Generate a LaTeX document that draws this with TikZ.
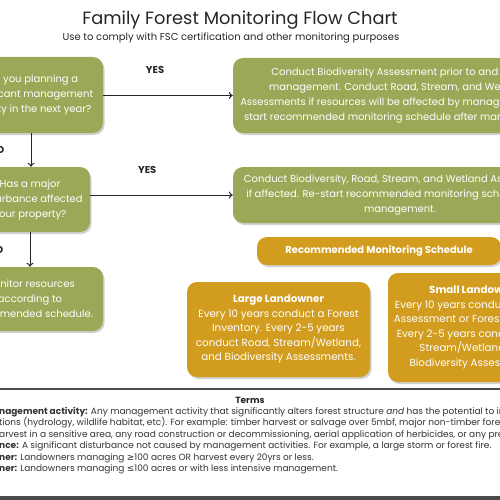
\documentclass[tikz,border=0pt]{standalone}
\usepackage{fontspec}
\setmainfont{Poppins}
\newfontfamily\symbolfont{DejaVu Sans}
\usetikzlibrary{arrows.meta,shadows}
\definecolor{boxgreen}{RGB}{155,168,88}
\definecolor{boxgold}{RGB}{210,156,30}
\definecolor{rulegray}{RGB}{75,75,75}
\tikzset{
  >={To[length=4pt,width=7pt]},
  flowbox/.style = {
    rounded corners=10pt,
    inner sep=0pt,
    text=white,
    align=center,
    font=\fontsize{10}{15}\selectfont,
    drop shadow={shadow xshift=1.5pt, shadow yshift=-2pt, opacity=0.3, fill=black!60}
  },
  greenbox/.style = {flowbox, fill=boxgreen},
  goldbox/.style = {flowbox, fill=boxgold},
  flow/.style = {->, line width=1pt, black!85},
  answer/.style = {font=\fontsize{10}{12}\selectfont\bfseries, black!85},
  termline/.style = {anchor=base west, inner sep=0pt, font=\fontsize{9}{11}\selectfont, black!80}
}

\begin{document}
\begin{tikzpicture}[x=1pt,y=-1pt]
  \useasboundingbox (0,0) rectangle (500,500);
  \clip (0,0) rectangle (500,500);
  % heading
  \node[font=\fontsize{17.8}{20}\selectfont, black!85] (title) at (240,20) {Family Forest Monitoring Flow Chart};
  \node[font=\fontsize{10}{12}\selectfont, black!85] (subtitle) at (231,38) {Use to comply with FSC certification and other monitoring purposes};
  % questions and actions
  \node[greenbox, minimum width=144pt, minimum height=76pt] (plan) at (31,95)
    {Are you planning a\\ significant management\\ activity in the next year?};
  \node[greenbox, minimum width=330pt, minimum height=75pt] (before) at (398,95.5)
    {Conduct Biodiversity Assessment prior to and after\\ management. Conduct Road, Stream, and Wetland\\ Assessments if resources will be affected by management. Re-\\ start recommended monitoring schedule after management.};
  \node[greenbox, minimum width=120pt, minimum height=65pt] (disturb) at (30,199.5)
    {Has a major\\ disturbance affected\\ your property?};
  \node[greenbox, minimum width=334pt, minimum height=56pt] (after) at (400,195)
    {Conduct Biodiversity, Road, Stream, and Wetland Assessments\\ if affected. Re-start recommended monitoring schedule after\\ management.};
  \node[greenbox, minimum width=146pt, minimum height=64pt] (monitor) at (30,299)
    {Monitor resources\\ according to\\ recommended schedule.};
  % schedule
  \node[goldbox, minimum width=244pt, minimum height=28pt, font=\fontsize{10}{12}\selectfont\bfseries] (schedule) at (379,251)
    {Recommended Monitoring Schedule};
  \node[goldbox, minimum width=183pt, minimum height=95pt, font=\fontsize{10.3}{14.5}\selectfont] (large) at (278.5,329.5)
    {\textbf{Large Landowner}\\ Every 10 years conduct a Forest\\ Inventory. Every 2-5 years\\ conduct Road, Stream/Wetland,\\ and Biodiversity Assessments.};
  \node[goldbox, minimum width=174pt, minimum height=109pt, font=\fontsize{10.3}{14.5}\selectfont] (small) at (475,327.5)
    {\textbf{Small Landowner}\\ Every 10 years conduct a Forest\\ Assessment or Forest Inventory.\\ Every 2-5 years conduct Road,\\ Stream/Wetland, and\\ Biodiversity Assessments.};
  % connectors
  \draw[flow] (plan.east |- before.west) -- node[answer, pos=0.4, above=18pt] (yes1) {YES} (before.west);
  \draw[flow] (plan.south) -- node[answer, left=23pt] (no1) {NO} (plan.south |- disturb.north);
  \draw[flow] (disturb.east |- after.west) -- node[answer, pos=0.4, above=18pt] (yes2) {YES} (after.west);
  \draw[flow] (disturb.south) -- node[answer, left=23pt] (no2) {NO} (disturb.south |- monitor.north);
  % terms
  \draw[rulegray, line width=2pt] (0,389) -- (500,389);
  \node[font=\fontsize{9}{11}\selectfont\bfseries, black!85] (terms) at (250,400) {Terms};
  \node[termline] (term1) at (-1,414) {\textbf{nagement activity:} Any management activity that significantly alters forest structure \textit{and} has the potential to impact};
  \node[termline] (term2) at (-1,425.5) {tions (hydrology, wildlife habitat, etc). For example: timber harvest or salvage over 5mbf, major non-timber forest product};
  \node[termline] (term3) at (-1,437) {arvest in a sensitive area, any road construction or decommissioning, aerial application of herbicides, or any prescribed burn.};
  \node[termline] (term4) at (-1,448.5) {\textbf{nce:} A significant disturbance not caused by management activities. For example, a large storm or forest fire.};
  \node[termline] (term5) at (-1,460) {\textbf{ner:} Landowners managing {\symbolfont ≥}100 acres OR harvest every 20yrs or less.};
  \node[termline] (term6) at (-1,471.5) {\textbf{ner:} Landowners managing {\symbolfont ≤}100 acres or with less intensive management.};
  \fill[rulegray] (0,496) rectangle (500,500);
\end{tikzpicture}
\end{document}
